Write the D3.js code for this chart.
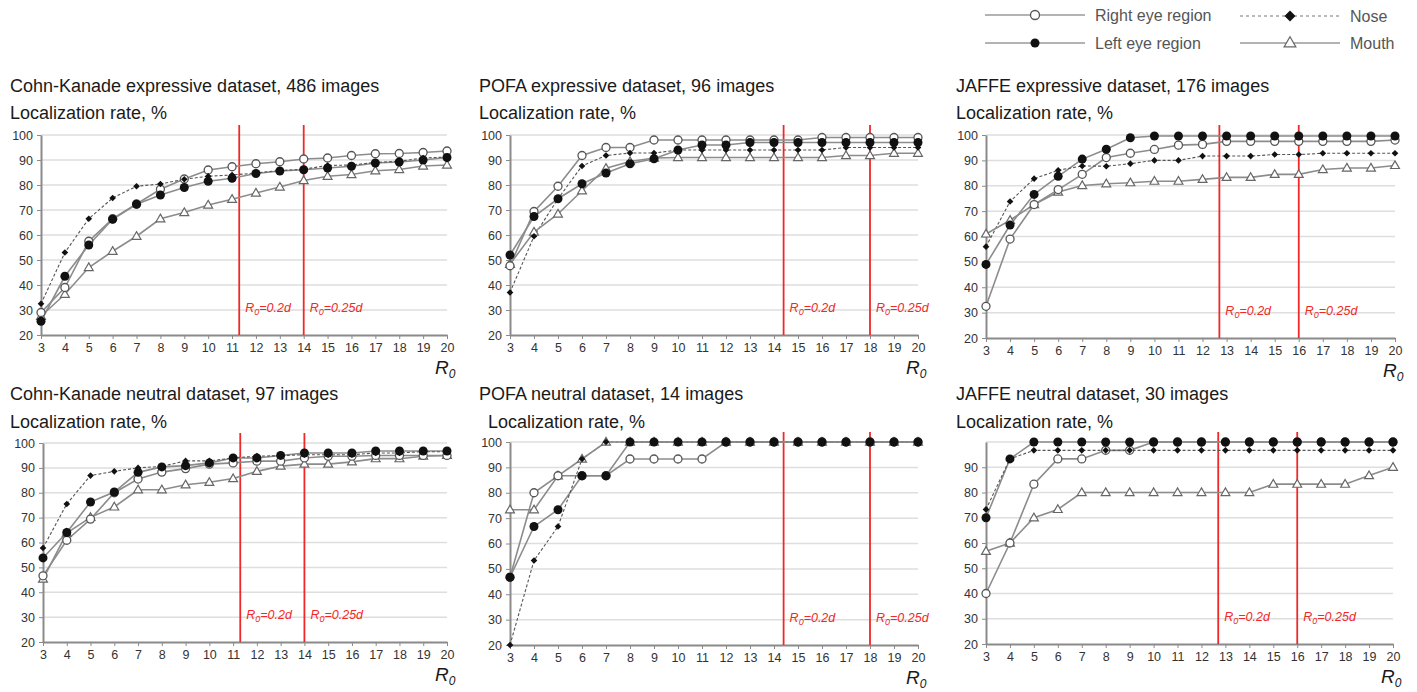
<!DOCTYPE html>
<html>
<head>
<meta charset="utf-8">
<script src="https://cdn.jsdelivr.net/npm/d3@7"></script>
<style>
body { margin: 0; background: #fff; }
svg { display: block; font-family: "Liberation Sans", Arial, sans-serif; }
</style>
</head>
<body>
<svg id="chart" width="1417" height="692"></svg>
<script>
// x values (R0) and y tick labels
const r0 = [3, 4, 5, 6, 7, 8, 9, 10, 11, 12, 13, 14, 15, 16, 17, 18, 19, 20]
const yTickLabels = [20, 30, 40, 50, 60, 70, 80, 90, 100]
const yTickLabelsNoTop = [20, 30, 40, 50, 60, 70, 80, 90]
const gridValues = [30, 40, 50, 60, 70, 80, 90, 100]

const seriesNames = ["Right eye region", "Left eye region", "Nose", "Mouth"]

// vertical reference lines (R0 = 0.2d, R0 = 0.25d)
const refLabels = ["=0.2d", "=0.25d"]
const ckRefs = [11.3, 14.0]
const pofaRefs = [14.4, 18.0]
const jaffeRefs = [12.7, 16.0]

// Cohn-Kanade expressive, 486 images
const ckExpRight = [29, 39, 57.5, 66.5, 72.4, 78.3, 82.4, 86, 87.3, 88.5, 89.3, 90.4, 90.8, 91.8, 92.5, 92.6, 93, 93.6]
const ckExpLeft = [25.5, 43.5, 56, 66.3, 72.3, 76, 79, 81.5, 82.7, 84.6, 85.6, 86.1, 86.8, 87.5, 88.8, 89.2, 90, 91]
const ckExpNose = [32.5, 53, 66.5, 74.8, 79.5, 80.4, 82.3, 83.5, 84, 84.8, 85.8, 86.3, 87.8, 88, 89, 89.5, 90.8, 91.2]
const ckExpMouth = [27.5, 36.3, 47, 53.5, 59.5, 66.5, 69, 72, 74.3, 76.8, 79.2, 81.8, 83.5, 84.2, 85.7, 86.2, 87.6, 88]

// POFA expressive, 96 images
const pofaExpRight = [47.7, 69.4, 79.5, 91.8, 95, 95, 98, 98, 98, 98, 98, 98, 98, 99, 99, 99, 99, 99]
const pofaExpLeft = [52, 67.4, 74.5, 80.5, 84.8, 88.5, 90.5, 94, 96, 96, 97, 97, 97, 97, 97, 97, 97, 97]
const pofaExpNose = [37, 59.5, 74.5, 87.6, 91.8, 92.8, 92.8, 94, 94, 94, 94, 94, 94, 94, 95, 95, 95, 95]
const pofaExpMouth = [48.3, 61.2, 68.4, 77.7, 86.7, 89.4, 90.8, 91, 91, 91, 91, 91, 91, 91, 91.8, 91.8, 92.7, 92.7]

// JAFFE expressive, 176 images
const jaffeExpRight = [32.5, 59, 72.6, 78.5, 84.5, 91.1, 92.8, 94.3, 96, 96.3, 97.5, 97.5, 97.5, 97.5, 97.5, 97.5, 97.5, 98]
const jaffeExpLeft = [49, 64.5, 76.6, 83.7, 90.5, 94.4, 98.9, 99.6, 99.6, 99.6, 99.6, 99.6, 99.6, 99.6, 99.6, 99.6, 99.6, 99.6]
const jaffeExpNose = [56, 73.8, 82.8, 86.1, 87.8, 87.7, 88.7, 90, 90, 91.7, 91.7, 91.7, 92.3, 92.3, 92.8, 92.8, 92.8, 92.8]
const jaffeExpMouth = [61, 66.4, 72.6, 77.5, 80.1, 80.8, 81.2, 81.8, 81.8, 82.5, 83.3, 83.3, 84.5, 84.5, 86.4, 87, 87, 88]

// Cohn-Kanade neutral, 97 images
const ckNeuRight = [46.6, 60.9, 69.4, 80, 85.5, 88.3, 89.7, 91.5, 92, 92.7, 92.7, 94, 94.7, 94.7, 95, 95, 95, 95]
const ckNeuLeft = [53.8, 64, 76.3, 80.3, 88.2, 90.4, 90.9, 92, 94, 94, 95, 96, 96, 96, 96.8, 96.8, 96.8, 96.8]
const ckNeuNose = [57.8, 75.5, 86.9, 88.6, 90, 90.6, 92.8, 92.8, 94, 94.7, 94.9, 95.3, 95.3, 95.3, 96, 96, 96.5, 96.5]
const ckNeuMouth = [45.3, 63.8, 70.1, 74.3, 81.2, 81.2, 83.2, 84.2, 85.7, 88.6, 90.7, 91.5, 91.5, 92.4, 93.7, 93.7, 94.7, 95]

// POFA neutral, 14 images
const pofaNeuRight = [46.7, 80, 86.7, 86.7, 86.7, 93.3, 93.3, 93.3, 93.3, 100, 100, 100, 100, 100, 100, 100, 100, 100]
const pofaNeuLeft = [46.7, 66.7, 73.3, 86.7, 86.7, 100, 100, 100, 100, 100, 100, 100, 100, 100, 100, 100, 100, 100]
const pofaNeuNose = [20, 53.3, 66.7, 93.3, 100, 100, 100, 100, 100, 100, 100, 100, 100, 100, 100, 100, 100, 100]
const pofaNeuMouth = [73.3, 73.3, 86.7, 93.3, 100, 100, 100, 100, 100, 100, 100, 100, 100, 100, 100, 100, 100, 100]

// JAFFE neutral, 30 images
const jaffeNeuRight = [40, 60, 83.3, 93.3, 93.3, 96.7, 96.7, 100, 100, 100, 100, 100, 100, 100, 100, 100, 100, 100]
const jaffeNeuLeft = [70, 93.3, 100, 100, 100, 100, 100, 100, 100, 100, 100, 100, 100, 100, 100, 100, 100, 100]
const jaffeNeuNose = [73.3, 93.3, 96.7, 96.7, 96.7, 96.7, 96.7, 96.7, 96.7, 96.7, 96.7, 96.7, 96.7, 96.7, 96.7, 96.7, 96.7, 96.7]
const jaffeNeuMouth = [56.7, 60, 70, 73.3, 80, 80, 80, 80, 80, 80, 80, 80, 83.3, 83.3, 83.3, 83.3, 86.7, 90]

var svg = d3.select("#chart")

// layout of the six panels
var panels = [
    { title: "Cohn-Kanade expressive dataset, 486 images", series: [ckExpRight, ckExpLeft, ckExpNose, ckExpMouth],
      refs: ckRefs, yTicks: yTickLabels, x0: 41, x1: 447, y0: 135, y1: 335, tx: 10, ty: 92, lx: 10, ly: 119 },
    { title: "POFA expressive dataset, 96 images", series: [pofaExpRight, pofaExpLeft, pofaExpNose, pofaExpMouth],
      refs: pofaRefs, yTicks: yTickLabels, x0: 510, x1: 918, y0: 135, y1: 335, tx: 479, ty: 92, lx: 479, ly: 119 },
    { title: "JAFFE expressive dataset, 176 images", series: [jaffeExpRight, jaffeExpLeft, jaffeExpNose, jaffeExpMouth],
      refs: jaffeRefs, yTicks: yTickLabels, x0: 986, x1: 1395, y0: 135, y1: 338, tx: 956, ty: 92, lx: 956, ly: 119 },
    { title: "Cohn-Kanade neutral dataset, 97 images", series: [ckNeuRight, ckNeuLeft, ckNeuNose, ckNeuMouth],
      refs: ckRefs, yTicks: yTickLabels, x0: 43, x1: 447, y0: 443, y1: 642, tx: 10, ty: 400, lx: 10, ly: 428 },
    { title: "POFA neutral dataset, 14 images", series: [pofaNeuRight, pofaNeuLeft, pofaNeuNose, pofaNeuMouth],
      refs: pofaRefs, yTicks: yTickLabels, x0: 510, x1: 918, y0: 442, y1: 645, tx: 479, ty: 400, lx: 488, ly: 428 },
    { title: "JAFFE neutral dataset, 30 images", series: [jaffeNeuRight, jaffeNeuLeft, jaffeNeuNose, jaffeNeuMouth],
      refs: jaffeRefs, yTicks: yTickLabelsNoTop, x0: 986, x1: 1393, y0: 442, y1: 644, tx: 956, ty: 400, lx: 956, ly: 428 }
]

var lineColor = "#8c8c8c"

function drawMarker(sel, kind, cx, cy, big) {
    if (kind == 0) {
        sel.append("circle").attr("cx", cx).attr("cy", cy).attr("r", big ? 4.5 : 4)
            .attr("fill", "#fff").attr("stroke", "#555").attr("stroke-width", 1.3)
    } else if (kind == 1) {
        sel.append("circle").attr("cx", cx).attr("cy", cy).attr("r", big ? 4.5 : 4.5)
            .attr("fill", "#111")
    } else if (kind == 2) {
        // square turned 45 degrees
        sel.append("path").attr("d", d3.symbol(d3.symbolSquare, big ? 60 : 22)())
            .attr("transform", "translate(" + cx + "," + cy + ") rotate(45)").attr("fill", "#111")
    } else {
        sel.append("path").attr("d", d3.symbol(d3.symbolTriangle, big ? 60 : 34)())
            .attr("transform", "translate(" + cx + "," + (cy + 0.5) + ")")
            .attr("fill", "#fff").attr("stroke", "#666").attr("stroke-width", 1.2)
    }
}

function drawPanel(p) {
    var x = d3.scaleLinear().domain([3, 20]).range([p.x0, p.x1])
    var y = d3.scaleLinear().domain([20, 100]).range([p.y1, p.y0])
    var g = svg.append("g")

    g.append("text").attr("x", p.tx).attr("y", p.ty).attr("font-size", 18).attr("fill", "#1a1a1a").text(p.title)
    g.append("text").attr("x", p.lx).attr("y", p.ly).attr("font-size", 18).attr("fill", "#1a1a1a").text("Localization rate, %")

    g.selectAll(".grid").data(gridValues).enter().append("line")
        .attr("x1", p.x0).attr("x2", p.x1)
        .attr("y1", d => y(d)).attr("y2", d => y(d))
        .attr("stroke", "#dedede").attr("stroke-width", 1.5)

    var xAxis = g.append("g").attr("transform", "translate(0," + p.y1 + ")")
        .call(d3.axisBottom(x).tickValues(r0).tickFormat(d3.format("d")).tickSize(4).tickSizeOuter(0).tickPadding(4))
    var yAxis = g.append("g").attr("transform", "translate(" + p.x0 + ",0)")
        .call(d3.axisLeft(y).tickValues(p.yTicks).tickSize(4).tickSizeOuter(0).tickPadding(4))
    ;[xAxis, yAxis].forEach(a => {
        a.select(".domain").attr("stroke", "#8a8a8a").attr("stroke-width", 2)
        a.selectAll(".tick line").attr("stroke", "#8a8a8a")
        a.selectAll(".tick text").attr("fill", "#333").attr("font-size", 12.5)
            .attr("font-family", "'Liberation Sans', Arial, sans-serif")
    })

    // reference lines
    p.refs.forEach((r, i) => {
        g.append("line").attr("x1", x(r)).attr("x2", x(r))
            .attr("y1", p.y0 - 10).attr("y2", p.y1)
            .attr("stroke", "#f02828").attr("stroke-width", 1.8)
        var t = g.append("text").attr("x", x(r) + 6).attr("y", p.y1 - 23)
            .attr("font-size", 12.5).attr("font-style", "italic").attr("fill", "#f02828")
        t.append("tspan").text("R")
        t.append("tspan").attr("font-size", 9).attr("dy", 3).text("0")
        t.append("tspan").attr("dy", -3).text(refLabels[i])
    })

    // R0 axis title
    var rt = g.append("text").attr("x", p.x1 - 12).attr("y", p.y1 + 39)
        .attr("font-size", 19).attr("font-style", "italic").attr("fill", "#1a1a1a")
    rt.append("tspan").text("R")
    rt.append("tspan").attr("font-size", 12).attr("dy", 4).text("0")

    // lines
    var line = d3.line().x((d, i) => x(r0[i])).y(d => y(d))
    p.series.forEach((s, k) => {
        g.append("path").datum(s).attr("d", line).attr("fill", "none")
            .attr("stroke", k == 2 ? "#555" : lineColor)
            .attr("stroke-width", k == 2 ? 1.1 : 1.6)
            .attr("stroke-dasharray", k == 2 ? "3,2" : null)
    })
    // markers, drawn mouth, right eye, left eye, nose
    ;[3, 0, 1, 2].forEach(k => {
        var mg = g.append("g")
        p.series[k].forEach((v, i) => drawMarker(mg, k, x(r0[i]), y(v), false))
    })
}

panels.forEach(drawPanel)

// legend
var legend = svg.append("g")
var legendRows = [
    { k: 0, x: 985, y: 15 }, { k: 2, x: 1240, y: 16 },
    { k: 1, x: 985, y: 43 }, { k: 3, x: 1240, y: 43 }
]
legendRows.forEach(r => {
    legend.append("line").attr("x1", r.x).attr("x2", r.x + 100).attr("y1", r.y).attr("y2", r.y)
        .attr("stroke", r.k == 2 ? "#777" : "#9a9a9a").attr("stroke-width", r.k == 2 ? 1 : 1.5)
        .attr("stroke-dasharray", r.k == 2 ? "3,3" : null)
    drawMarker(legend, r.k, r.x + 50, r.y, true)
    legend.append("text").attr("x", r.x + 110).attr("y", r.y + 5.5)
        .attr("font-size", 16).attr("fill", "#555").text(seriesNames[r.k])
})
</script>
</body>
</html>
